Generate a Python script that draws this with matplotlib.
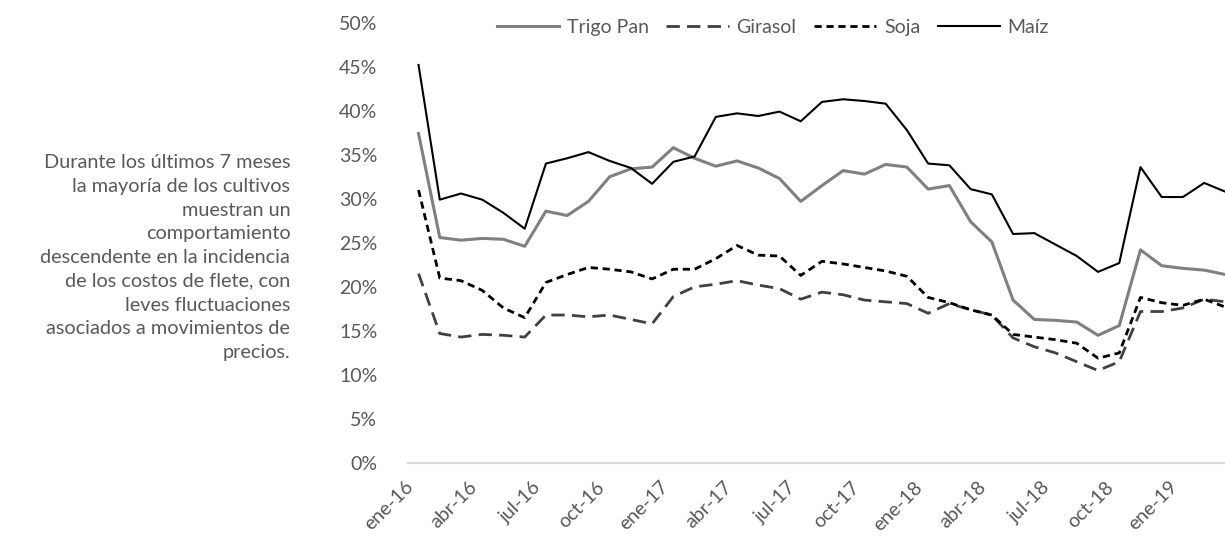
import matplotlib
matplotlib.use('Agg')
import matplotlib.pyplot as plt
from matplotlib.ticker import FuncFormatter
from matplotlib.transforms import ScaledTranslation

# meses ene-16 .. mar-19
meses = ['ene', 'feb', 'mar', 'abr', 'may', 'jun', 'jul', 'ago', 'sep', 'oct', 'nov', 'dic']
fechas = [f'{meses[i % 12]}-{16 + i // 12}' for i in range(39)]

trigo = [37.4, 25.6, 25.3, 25.5, 25.4, 24.6, 28.6, 28.1, 29.7, 32.5,
         33.4, 33.6, 35.8, 34.6, 33.7, 34.3, 33.5, 32.3, 29.7, 31.5,
         33.2, 32.8, 33.9, 33.6, 31.1, 31.5, 27.4, 25.1, 18.5, 16.3,
         16.2, 16.0, 14.5, 15.6, 24.2, 22.4, 22.1, 21.9, 21.4]
girasol = [21.5, 14.7, 14.3, 14.6, 14.5, 14.3, 16.8, 16.8, 16.6, 16.8,
           16.3, 15.8, 18.9, 20.0, 20.3, 20.7, 20.2, 19.8, 18.6, 19.4,
           19.1, 18.5, 18.3, 18.1, 17.0, 18.1, 17.4, 16.8, 14.2, 13.2,
           12.5, 11.5, 10.5, 11.5, 17.2, 17.2, 17.6, 18.6, 18.3]
soja = [31.0, 21.0, 20.7, 19.6, 17.6, 16.5, 20.5, 21.4, 22.2, 22.0,
        21.7, 20.9, 22.0, 22.0, 23.2, 24.7, 23.6, 23.5, 21.3, 22.9,
        22.6, 22.2, 21.8, 21.2, 18.8, 18.2, 17.4, 16.8, 14.6, 14.3,
        14.0, 13.6, 11.9, 12.5, 18.8, 18.2, 17.9, 18.6, 17.7]
maiz = [45.2, 29.9, 30.6, 29.9, 28.4, 26.6, 34.0, 34.6, 35.3, 34.3,
        33.5, 31.7, 34.2, 34.8, 39.3, 39.7, 39.4, 39.9, 38.8, 41.0,
        41.3, 41.1, 40.8, 37.8, 34.0, 33.8, 31.1, 30.5, 26.0, 26.1,
        24.8, 23.5, 21.7, 22.7, 33.6, 30.2, 30.2, 31.8, 30.8]

texto = ('Durante los últimos 7 meses\nla mayoría de los cultivos\nmuestran un\n'
         'comportamiento\ndescendente en la incidencia\nde los costos de flete, con\n'
         'leves fluctuaciones\nasociados a movimientos de\nprecios.')

plt.rcParams['font.family'] = ['Lato', 'DejaVu Sans']
gris = '#595959'

fig = plt.figure(figsize=(12.25, 5.39), dpi=100)
ax = fig.add_axes([0.333, 0.141, 0.676, 0.817])

x = range(len(fechas))
ax.plot(x, [v / 100 for v in trigo], color='#808080', lw=2.2, label='Trigo Pan')
ax.plot(x, [v / 100 for v in girasol], color='#404040', lw=2.0, dashes=(4.8, 2.6), label='Girasol')
ax.plot(x, [v / 100 for v in soja], color='black', lw=2.0, dashes=(2.6, 1.7), label='Soja')
ax.plot(x, [v / 100 for v in maiz], color='black', lw=1.5, label='Maíz')

ax.set_xlim(-0.5, len(fechas) - 0.5)
ax.set_ylim(0, 0.5)
ax.set_yticks([i * 0.05 for i in range(11)])
ax.yaxis.set_major_formatter(FuncFormatter(lambda v, p: f'{v * 100:.0f}%'))
ax.set_xticks(list(range(0, len(fechas), 3)))
ax.set_xticklabels(fechas[::3], rotation=45, ha='right', rotation_mode='anchor')
ax.tick_params(length=0, labelsize=14, colors=gris)
ax.tick_params(axis='y', pad=22)
ax.tick_params(axis='x', pad=11)
desplazar = ScaledTranslation(-14 / 100, 0, fig.dpi_scale_trans)
for lbl in ax.get_xticklabels():
    lbl.set_transform(lbl.get_transform() + desplazar)

for s in ['top', 'right', 'left']:
    ax.spines[s].set_visible(False)
ax.spines['bottom'].set_color('#d9d9d9')
ax.spines['bottom'].set_linewidth(1.5)

leg = fig.legend(loc='center', bbox_to_anchor=(773 / 1225, 1 - 27 / 539), ncol=4,
                 frameon=False, fontsize=14, handlelength=3.2, columnspacing=0.9,
                 handletextpad=0.4)
for t in leg.get_texts():
    t.set_color(gris)

fig.text(0.237, 0.522, texto, ha='right', va='center', fontsize=14.3, color=gris,
         linespacing=1.48)

fig.savefig('out.png', dpi=100)
